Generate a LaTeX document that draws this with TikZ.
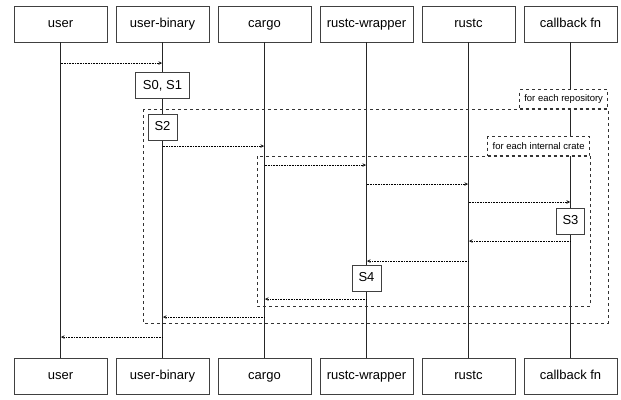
\documentclass[tikz,border=0pt]{standalone}
\usepackage{fontspec}
\setmainfont{Liberation Sans}
\usetikzlibrary{positioning, arrows}
\tikzset{
  seq/.style={
	x=1pt, y=-1pt,
	node distance=8.2pt, % gap between two actor boxes
	actor/.style={draw=black!75, thick, fill=white, minimum width=93pt, minimum height=36pt, inner sep=0pt, text height=9.5pt, text depth=3pt, font=\fontsize{13}{15}\selectfont}, % the boxes on top and bottom
	act/.style={draw=black!75, thick, fill=white, minimum height=26pt, inner sep=0pt, text height=9.5pt, text depth=2.5pt, font=\fontsize{13}{15}\selectfont}, % activation boxes
	life/.style={black!85, line width=0.7pt}, % lifelines
	msg/.style={->, >=stealth, densely dotted, line width=0.6pt, shorten >=0.5pt}, % messages
	frame/.style={draw=black!80, dashed, line width=0.7pt}, % loop frames
	tab/.style={frame, fill=white, minimum height=19pt, inner sep=2pt, font=\fontsize{9.5}{11}\selectfont}, % loop labels
  }
}
\begin{document}
\begin{tikzpicture}[seq]
\useasboundingbox (0,0) rectangle (621,399);

% actors on top
\node[actor] at (60.5,24) (user) {user};
\node[actor, right=of user] (ub) {user-binary};
\node[actor, right=of ub] (cargo) {cargo};
\node[actor, right=of cargo] (wrapper) {rustc-wrapper};
\node[actor, right=of wrapper] (rustc) {rustc};
\node[actor, right=of rustc] (cb) {callback fn};

% actors at the bottom
\node[actor] at (60.5,376.5) (userB) {user};
\node[actor, right=of userB] (ubB) {user-binary};
\node[actor, right=of ubB] (cargoB) {cargo};
\node[actor, right=of cargoB] (wrapperB) {rustc-wrapper};
\node[actor, right=of wrapperB] (rustcB) {rustc};
\node[actor, right=of rustcB] (cbB) {callback fn};

\foreach \n in {user, ub, cargo, wrapper, rustc, cb}
  \draw[life] (\n.south) -- (\n B.north);

% loop frames
\draw[frame] (143,109) rectangle (608,323);
\node[tab, anchor=south east, minimum width=88pt] at (608,109) (repo) {for each repository};
\draw[frame] (257,156) rectangle (590,306);
\node[tab, anchor=south east, minimum width=102pt] at (590,156) (crate) {for each internal crate};

% activations
\node[act, minimum width=54pt] at (ub |- 0,85.5) (s01) {S0, S1};
\node[act, minimum width=29pt] at (ub |- 0,127) (s2) {S2};
\node[act, minimum width=28pt] at (cb |- 0,221) (s3) {S3};
\node[act, minimum width=29pt] at (wrapper |- 0,278) (s4) {S4};

% messages
\draw[msg] (user |- 0,63) -- (ub |- 0,63);
\draw[msg] (ub |- 0,146) -- (cargo |- 0,146);
\draw[msg] (cargo |- 0,165) -- (wrapper |- 0,165);
\draw[msg] (wrapper |- 0,184) -- (rustc |- 0,184);
\draw[msg] (rustc |- 0,202) -- (cb |- 0,202);
\draw[msg] (cb |- 0,241) -- (rustc |- 0,241);
\draw[msg] (rustc |- 0,261) -- (wrapper |- 0,261);
\draw[msg] (wrapper |- 0,299) -- (cargo |- 0,299);
\draw[msg] (cargo |- 0,317) -- (ub |- 0,317);
\draw[msg] (ub |- 0,337) -- (user |- 0,337);
\end{tikzpicture}
\end{document}
